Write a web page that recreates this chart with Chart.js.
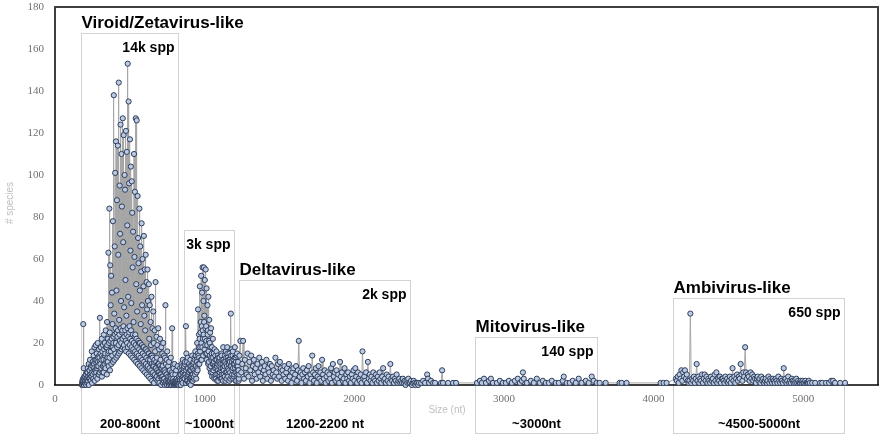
<!DOCTYPE html>
<html>
<head>
<meta charset="utf-8">
<script src="https://cdn.jsdelivr.net/npm/chart.js@4.4.1/dist/chart.umd.min.js"></script>
<style>
  html, body { margin: 0; padding: 0; background: #ffffff; }
  #c { display: block; }
</style>
</head>
<body>
<canvas id="c" width="886" height="440"></canvas>
<script>
// ---- Data: genome size (nt) bins and number of species per bin ----
// Viroid/Zetavirus-like region: bins every 3 nt from 180 nt
const zetaStart = 180, zetaStep = 3;
const zetaCounts = [
  0,2,1,29,8,3,1,4,2,5,
  3,6,2,8,4,10,3,7,12,5,
  9,4,16,6,11,3,14,8,18,7,
  12,19,6,15,9,20,11,5,17,13,
  32,10,18,8,22,14,6,19,12,24,
  9,20,15,26,11,18,30,13,22,63,
  16,84,25,57,38,52,18,44,29,78,
  20,138,34,66,101,27,116,45,88,23,
  114,62,144,31,95,72,124,40,110,85,
  26,127,68,119,37,100,93,50,121,33,
  111,76,153,42,135,96,28,117,64,104,
  39,97,82,56,73,30,110,61,92,24,
  127,48,126,35,90,70,58,20,84,45,
  66,29,54,77,38,60,18,47,71,33,
  55,26,62,17,49,36,55,40,15,48,
  22,38,12,30,19,42,14,27,9,35,
  20,11,26,16,49,8,23,13,19,6,
  27,10,17,5,22,12,8,18,4,15,
  9,20,3,14,7,13,38,10,5,12,
  16,3,9,1,11,4,7,2,13,3,
  6,27,5,2,8,0,10,1,5,2,
  7,3,1,9,2,0,4
];
// Interleaved (half-step) bins of the same region
const zetaBgStart = 181.5, zetaBgStep = 3;
const zetaBgCounts = [
  1,0,3,2,0,4,1,2,5,0,
  3,1,6,2,4,0,7,3,5,2,
  8,4,1,9,5,3,10,6,2,11,
  7,4,12,8,3,13,9,5,14,6,
  11,15,7,12,4,16,9,13,6,17,
  10,14,8,18,12,5,19,11,15,9,
  20,13,7,21,16,10,22,14,18,11,
  23,17,12,24,15,20,13,25,18,14,
  26,19,15,24,21,16,27,20,17,25,
  22,18,28,19,23,17,26,21,16,24,
  20,27,18,23,15,25,19,22,14,26,
  18,21,13,24,17,20,12,23,16,19,
  11,22,15,18,10,21,14,17,9,20,
  13,16,8,19,12,15,7,18,11,14,
  6,17,10,13,5,16,9,12,4,15,
  8,11,3,14,7,10,2,13,6,9,
  1,12,5,8,3,11,4,7,2,10,
  3,6,1,9,4,5,0,8,3,4,
  1,7,2,3,0,6,1,2,5,0,
  2,4,1,0,3,1,2,0,4,1,
  0,2,1,3,0,1,2,0,1,0,
  1,0,2,0,1,0,1
];
// ~1000 nt region: bins every 3 nt from 833 nt
const k1Start = 833, k1Step = 3;
const k1Counts = [
  3,8,1,5,10,2,6,12,4,7,
  9,3,11,5,28,15,2,8,13,4,
  6,10,1,7,12,3,9,5,14,2,
  8,11,4,13,6,16,9,3,12,20,
  7,36,14,24,10,47,18,30,52,12,
  44,56,22,40,56,33,50,19,55,28,
  46,15,38,26,42,11,31,20,25,9,
  27,13,18,6,22,10,15,4,17,8,
  12,3,16,9,5,14,2,11,6,13,
  4,10,7,15,3,12,8,18,5,11,
  9,14,2,16,10,6,18,13,4,12,
  7,15,11,3,34,9,17,5,14,8,
  12,4,10,18,6,13,2,9,15,5,
  11,7,3
];
const k1BgStart = 834.5, k1BgStep = 3;
const k1BgCounts = [
  2,5,0,7,3,9,1,6,4,8,
  3,10,5,1,7,4,11,2,8,5,
  1,6,3,9,0,7,4,2,8,5,
  10,3,7,12,5,9,14,6,11,8,
  15,10,18,13,22,16,25,12,20,28,
  18,26,14,24,30,17,22,27,15,21,
  12,19,24,10,16,21,8,14,18,6,
  12,15,4,10,13,7,11,3,9,14,
  5,8,12,2,10,7,13,4,9,6,
  11,3,8,14,5,10,2,12,7,9,
  4,11,6,13,3,9,15,5,8,10,
  2,12,6,9,14,4,11,7,16,3,
  10,5,13,8,2,11,6,14,4,9,
  7,2,5
];
// Deltavirus-like region: bins every 6 nt from 1233 nt
const deltaStart = 1233, deltaStep = 6;
const deltaCounts = [
  14,21,6,10,21,3,12,8,5,15,
  4,11,7,14,2,9,12,5,8,3,
  10,6,13,4,8,11,2,7,9,5,
  12,3,8,6,10,2,9,5,7,4,
  13,6,3,10,4,11,8,2,7,5,
  9,3,6,8,2,10,4,7,1,6,
  8,3,5,9,2,7,21,4,6,1,
  5,8,3,6,2,7,4,9,1,5,
  3,14,6,2,5,8,1,4,9,3,
  6,2,12,5,3,7,1,4,6,2,
  5,3,8,1,10,4,6,2,7,3,
  5,1,11,4,6,2,3,8,1,5,
  3,6,2,4,1,5,3,7,2,8,
  4,1,6,3,2,5,1,16,3,4,
  2,6,1,11,3,5,2,4,1,6,
  3,2,5,1,4,2,6,3,1,4,
  8,2,3,1,5,2,4,1,10,3,
  2,4,1,3,2,5,1,2,3,1,
  2,1,3,1,2,0,2,1,3,1,
  1,2,0,1,2,1,0,1,1,0
];
// Sparse sizes between 2400 and 4100 nt (incl. Mitovirus-like)
const midSizes = [
  2433,2447,2460,2473,2487,2493,2500,2513,2527,2540,2580,2587,2593,2627,2660,2680,
  2820,2840,2853,2867,2880,2900,2913,2927,2953,2973,
  2993,3013,3033,3053,3073,3093,3107,3120,3127,3133,
  3153,3180,3200,3220,3240,3260,3280,3300,3320,3347,
  3367,3393,3400,3420,3440,3460,3480,3500,3520,3547,
  3567,3587,3600,3620,3640,3680,
  3773,3787,3820,4047,4067,4087
];
const midCounts = [
  1,1,2,1,5,3,1,2,1,1,1,7,1,1,1,1,
  1,2,1,3,1,2,3,1,1,2,
  1,1,2,1,2,3,1,2,6,3,
  1,2,1,3,1,2,1,1,2,1,
  1,2,4,1,1,2,1,3,1,2,
  1,4,2,1,1,1,
  1,1,1,1,1,1
];
// Ambivirus-like region: bins every 6 nt from 4150 nt
const ambiStart = 4150, ambiStep = 6;
const ambiCounts = [
  3,2,4,1,5,3,7,2,6,4,
  7,3,5,2,1,2,34,1,3,2,
  4,1,3,10,2,4,1,3,2,5,
  1,3,5,2,4,1,3,2,1,4,
  2,3,1,5,2,6,1,3,2,4,
  1,3,3,2,1,4,2,3,1,2,
  4,1,3,8,2,4,1,3,5,2,
  4,3,10,5,2,6,4,18,6,3,
  5,4,2,6,3,5,2,4,3,1,
  3,4,2,3,1,4,2,3,1,2,
  3,1,2,4,1,3,2,1,3,2,
  1,3,2,1,4,2,1,3,2,1,
  8,2,3,1,2,4,1,2,1,3,
  2,1,2,1,3,1,2,1,1,2,
  1,2,1,1,2,1,1,1,2,1
];
const tailSizes  = [5060,5080,5113,5127,5153,5173,5187,5200,5213,5247,5280];
const tailCounts = [1,1,1,1,1,1,2,2,1,1,1];

// Axis ticks
const xTicks = [0,1000,2000,3000,4000,5000];
const yTicks = [0,20,40,60,80,100,120,140,160,180];

// Region annotations
const regionTitles = ['Viroid/Zetavirus-like','','Deltavirus-like','Mitovirus-like','Ambivirus-like'];
const regionSpp    = ['14k spp','3k spp','2k spp','140 spp','650 spp'];
const regionRanges = ['200-800nt','~1000nt','1200-2200 nt','~3000nt','~4500-5000nt'];

// ---- Build points ----
const points = [];
function addStepped(start, step, counts) {
  counts.forEach((c, i) => points.push({ x: start + i * step, y: c }));
}
function addExplicit(sizes, counts) {
  sizes.forEach((s, i) => points.push({ x: s, y: counts[i] }));
}
addStepped(zetaStart, zetaStep, zetaCounts);
addStepped(zetaBgStart, zetaBgStep, zetaBgCounts);
addStepped(k1Start, k1Step, k1Counts);
addStepped(k1BgStart, k1BgStep, k1BgCounts);
addStepped(deltaStart, deltaStep, deltaCounts);
addExplicit(midSizes, midCounts);
addStepped(ambiStart, ambiStep, ambiCounts);
addExplicit(tailSizes, tailCounts);
points.sort((a, b) => a.x - b.x);

// Box geometry (in data units along x; top in y units)
const boxes = [
  { from: 172, to: 821,  top: 167.6 },
  { from: 861, to: 1196, top: 73.8 },
  { from: 1229, to: 2373, top: 50 },
  { from: 2808, to: 3624, top: 22.9 },
  { from: 4132, to: 5270, top: 41.4 }
];

const annotPlugin = {
  id: 'annot',
  beforeDatasetsDraw(chart) {
    const { ctx, chartArea: a, scales: { x, y } } = chart;
    ctx.save();
    ctx.strokeStyle = '#d3d3d3';
    ctx.lineWidth = 1;
    boxes.forEach(b => {
      const l = Math.round(x.getPixelForValue(b.from)) + 0.5;
      const r = Math.round(x.getPixelForValue(b.to)) + 0.5;
      const t = Math.round(y.getPixelForValue(b.top)) + 0.5;
      const bot = a.bottom + 48.5;
      ctx.strokeRect(l, t, r - l, bot - t);
    });
    ctx.strokeStyle = '#404040';
    ctx.lineWidth = 2;
    ctx.beginPath();
    ctx.moveTo(a.left, a.bottom);
    ctx.lineTo(a.left, a.top);
    ctx.lineTo(a.right, a.top);
    ctx.lineTo(a.right, a.bottom);
    ctx.stroke();
    ctx.strokeStyle = '#000000';
    ctx.lineWidth = 1.5;
    ctx.beginPath();
    ctx.moveTo(a.left - 1, a.bottom);
    ctx.lineTo(a.right + 1, a.bottom);
    ctx.stroke();
    ctx.restore();
  },
  afterDraw(chart) {
    const { ctx, chartArea: a, scales: { x, y } } = chart;
    ctx.save();
    ctx.fillStyle = '#000000';
    boxes.forEach((b, i) => {
      const l = Math.round(x.getPixelForValue(b.from)) + 0.5;
      const r = Math.round(x.getPixelForValue(b.to)) + 0.5;
      const t = Math.round(y.getPixelForValue(b.top)) + 0.5;
      if (regionTitles[i]) {
        ctx.font = 'bold 17px "Liberation Sans", Arial, sans-serif';
        ctx.textAlign = 'left';
        ctx.textBaseline = 'alphabetic';
        ctx.fillText(regionTitles[i], l, t - 6);
      }
      ctx.font = 'bold 14px "Liberation Sans", Arial, sans-serif';
      ctx.textAlign = 'right';
      ctx.fillText(regionSpp[i], r - 4, t + 18);
      ctx.font = 'bold 13px "Liberation Sans", Arial, sans-serif';
      ctx.textAlign = 'center';
      ctx.fillText(regionRanges[i], (l + r) / 2, a.bottom + 43);
    });
    ctx.fillStyle = '#bfbfbf';
    ctx.font = '10px "Liberation Sans", Arial, sans-serif';
    ctx.textAlign = 'center';
    ctx.textBaseline = 'middle';
    ctx.fillText('Size (nt)', 447, 410);
    ctx.translate(10, 203);
    ctx.rotate(-Math.PI / 2);
    ctx.fillText('# species', 0, 0);
    ctx.restore();
  }
};

const tickFont = { family: '"Liberation Serif", "Times New Roman", serif', size: 11 };

new Chart(document.getElementById('c'), {
  type: 'scatter',
  data: {
    datasets: [{
      data: points,
      showLine: true,
      borderColor: '#a6a6a6',
      borderWidth: 1,
      pointRadius: 2.6,
      pointBackgroundColor: '#bccbe2',
      pointBorderColor: '#2e3d5c',
      pointBorderWidth: 1,
      tension: 0,
      clip: false
    }]
  },
  options: {
    responsive: false,
    animation: false,
    events: [],
    layout: { padding: { top: 7, right: 8, left: 0, bottom: 0 } },
    plugins: { legend: { display: false }, tooltip: { enabled: false } },
    scales: {
      x: {
        type: 'linear', min: 0, max: 5500,
        grid: { display: false, drawTicks: false },
        border: { display: false },
        ticks: { stepSize: 1000, color: '#707070', font: tickFont, padding: 8, maxRotation: 0,
                 callback: v => String(v) },
        afterBuildTicks(s) { s.ticks = xTicks.map(v => ({ value: v })); },
        afterFit(s) { s.height = 55; s.paddingLeft = 0; s.paddingRight = 0; }
      },
      y: {
        min: 0, max: 180,
        grid: { display: false, drawTicks: false },
        border: { display: false },
        ticks: { stepSize: 20, color: '#707070', font: tickFont, padding: 11,
                 callback: v => String(v) },
        afterBuildTicks(s) { s.ticks = yTicks.map(v => ({ value: v })); },
        afterFit(s) { s.width = 55; s.paddingTop = 0; s.paddingBottom = 0; }
      }
    }
  },
  plugins: [annotPlugin]
});
</script>
</body>
</html>
